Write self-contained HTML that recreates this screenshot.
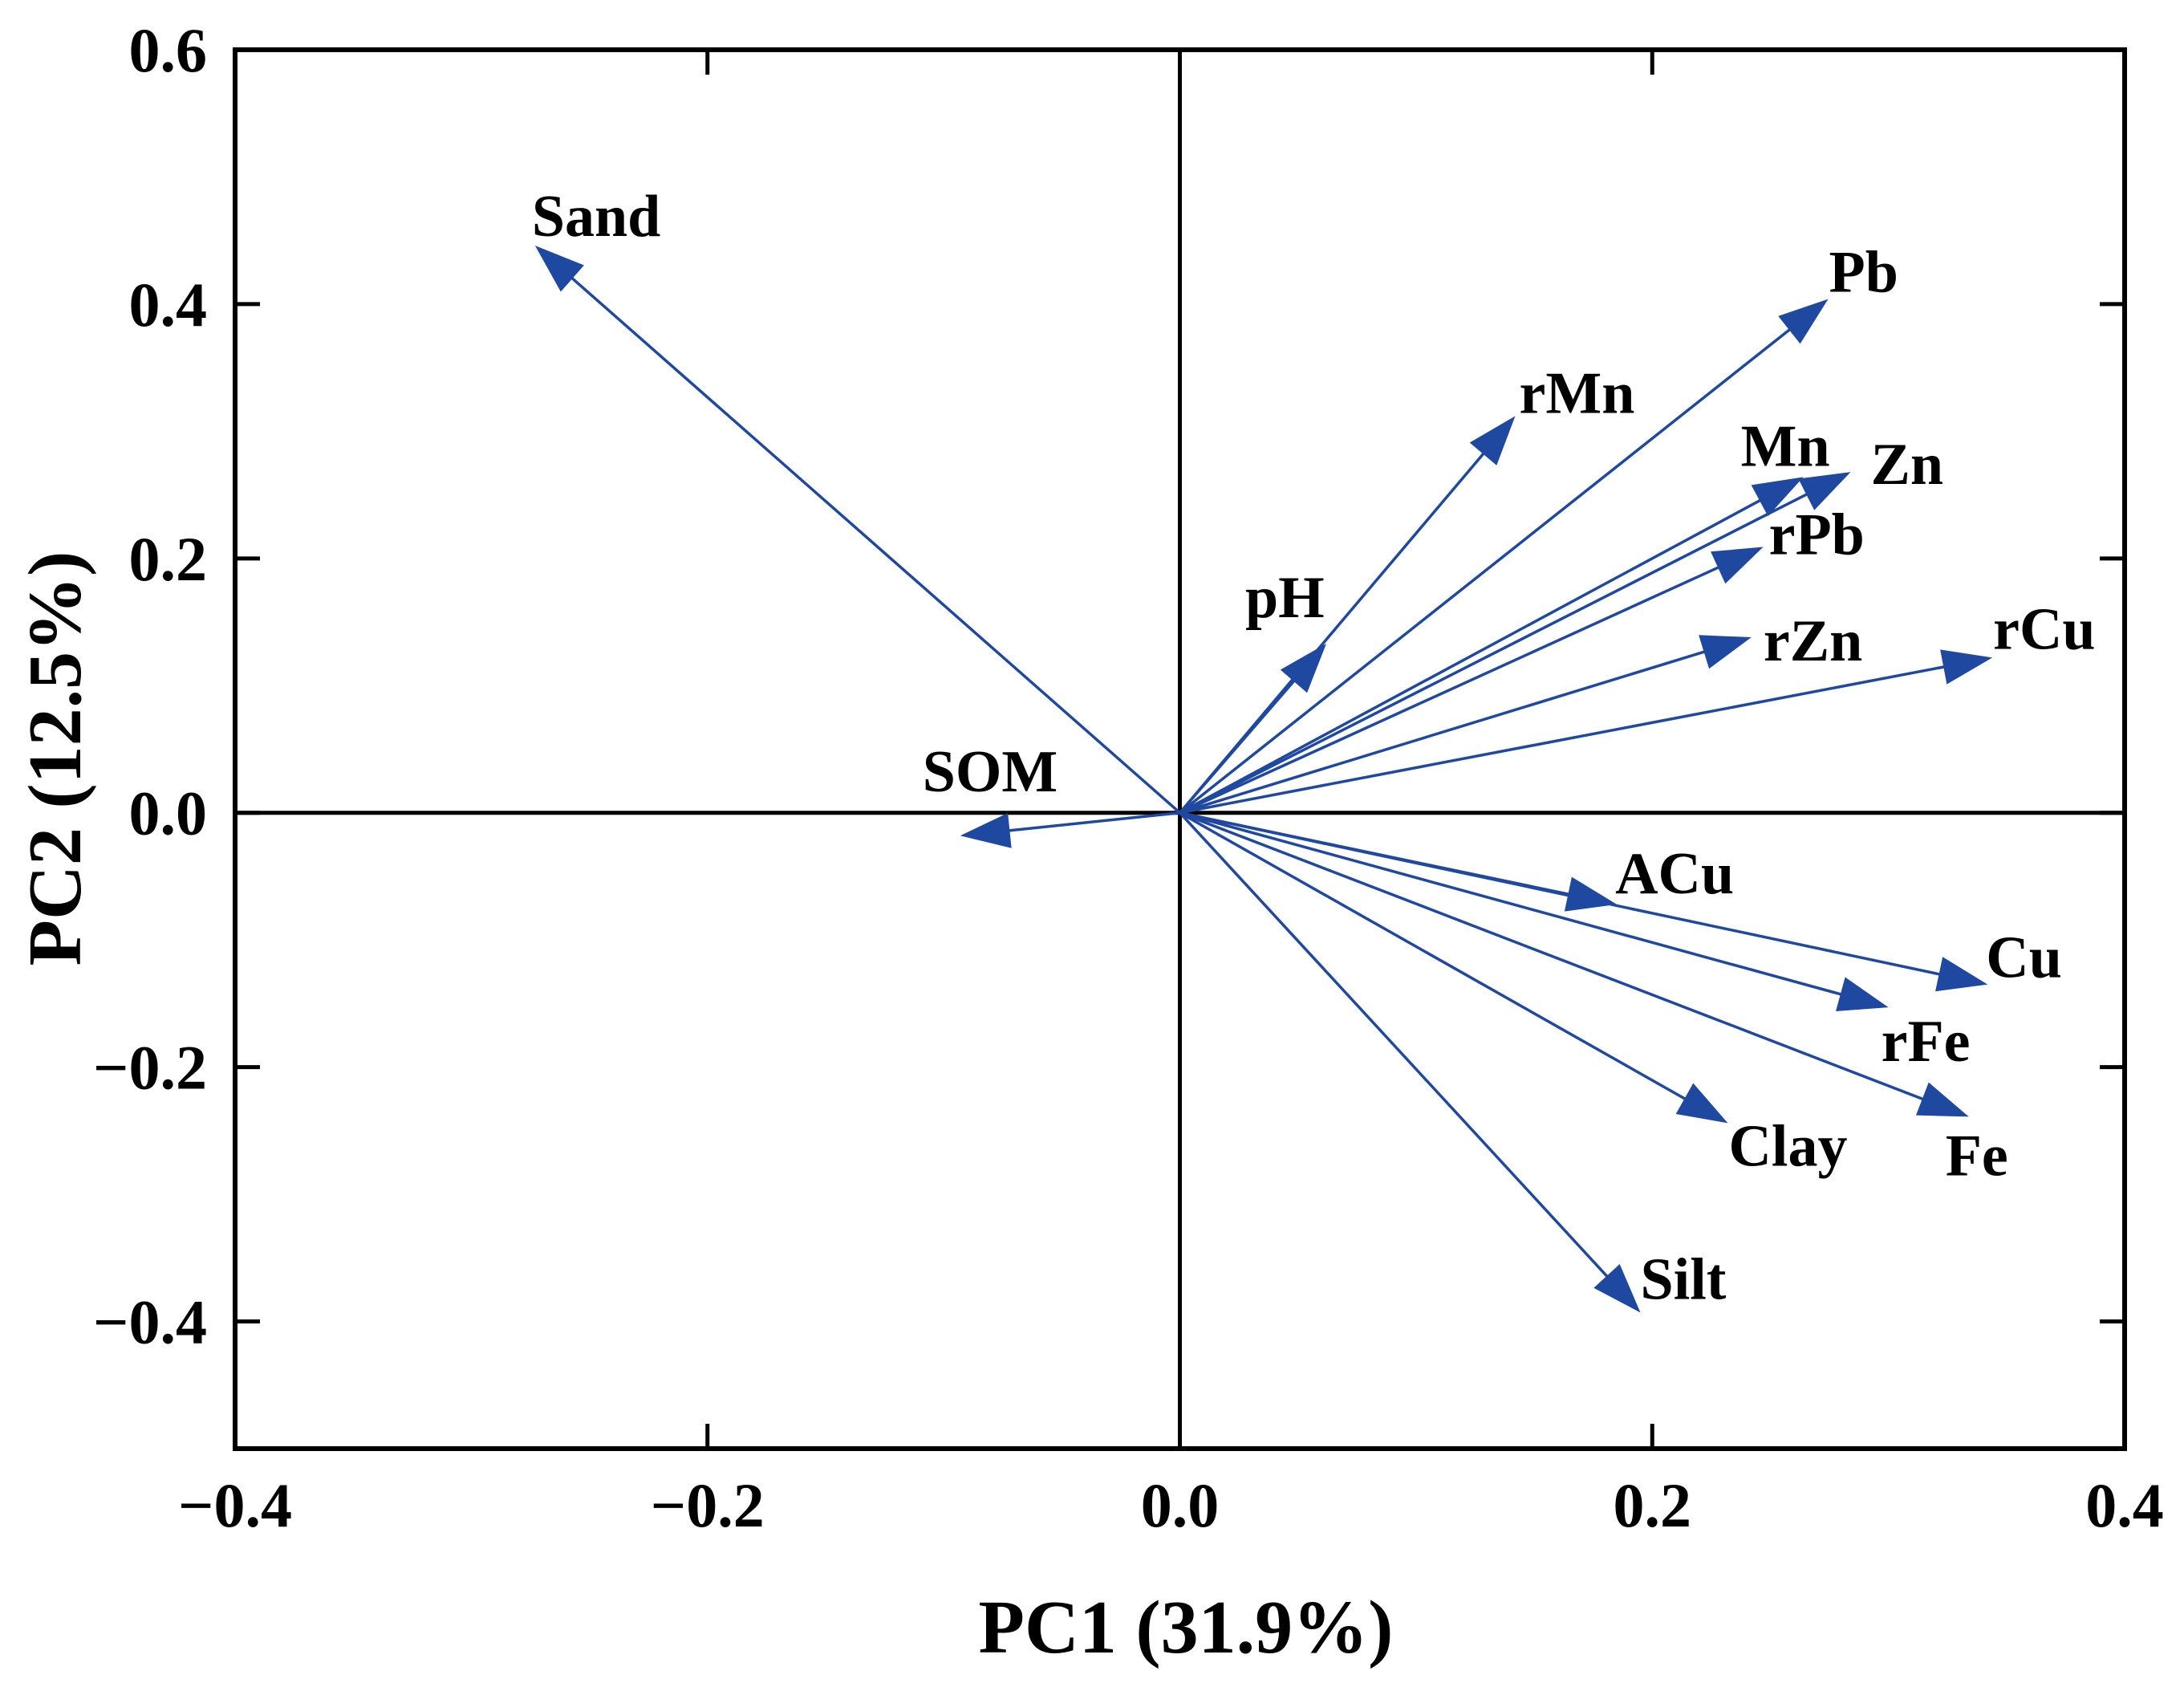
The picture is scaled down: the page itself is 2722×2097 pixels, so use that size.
<!DOCTYPE html>
<html><head><meta charset="utf-8"><style>
html,body{margin:0;padding:0;background:#fff;}
svg text{font-family:"Liberation Serif",serif;font-weight:bold;fill:#000;}
</style></head><body>
<svg id="chart" width="2722" height="2092" viewBox="0 0 2722 2092" xmlns="http://www.w3.org/2000/svg">
<g id="axes"></g>
<g id="arrows"></g>
<text x="1478" y="2059" text-anchor="middle" font-size="94">PC1 (31.9%)</text>
<text transform="translate(100,945) rotate(-90)" text-anchor="middle" font-size="94">PC2 (12.5%)</text>
</svg>
<script>
const variables = ["Sand","Pb","rMn","Mn","Zn","rPb","rZn","rCu","pH","SOM","ACu","Cu","rFe","Fe","Clay","Silt"];
const pc1 = [-0.273,0.2745,0.142,0.264,0.284,0.247,0.242,0.344,0.062,-0.093,0.185,0.342,0.300,0.334,0.232,0.195];
const pc2 = [0.446,0.404,0.312,0.264,0.268,0.209,0.138,0.122,0.133,-0.018,-0.072,-0.135,-0.153,-0.239,-0.244,-0.393];
const xTicks = [-0.4,-0.2,0.0,0.2,0.4];
const yTicks = [-0.4,-0.2,0.0,0.2,0.4,0.6];
const xTickLabels = ["\u22120.4","\u22120.2","0.0","0.2","0.4"];
const yTickLabels = ["\u22120.4","\u22120.2","0.0","0.2","0.4","0.6"];
const labelDx = [-4,1,5,-78,25,7,15,1,-101,-47,-2,-2,-9,-29,1,0];
const labelDy = [-12,-9,-4,-14,15,9,29,-11,-33,-55,-14,-9,67,73,53,-17];

const NS="http://www.w3.org/2000/svg";
const L=293,R=2648,T=62,B=1805;
const xMin=-0.4,xMax=0.4,yMin=-0.5,yMax=0.6;
const X=v=>L+(v-xMin)/(xMax-xMin)*(R-L);
const Y=v=>B-(v-yMin)/(yMax-yMin)*(B-T);
function mk(tag,attrs,parent){const e=document.createElementNS(NS,tag);for(const k in attrs)e.setAttribute(k,attrs[k]);parent.appendChild(e);return e;}
const ax=document.getElementById('axes');
let e;
e=mk('rect',{x:L,y:T,width:R-L,height:B-T,fill:'none',stroke:'#000','stroke-width':6},ax);


e=mk('line',{x1:X(0),x2:X(0),y1:T,y2:B,stroke:'#000','stroke-width':5},ax);


e=mk('line',{x1:L,x2:R,y1:Y(0),y2:Y(0),stroke:'#000','stroke-width':5},ax);


const tl=31;
xTicks.forEach((v,i)=>{
  const x=X(v);
  e=mk('line',{x1:x,x2:x,y1:B,y2:B-tl,stroke:'#000','stroke-width':5},ax);
  
  
  e=mk('line',{x1:x,x2:x,y1:T,y2:T+tl,stroke:'#000','stroke-width':5},ax);
  
  
  e=mk('text',{x:x,y:1902,'text-anchor':'middle','font-size':78},ax);
  e.textContent=xTickLabels[i];
  
  
});
yTicks.forEach((v,i)=>{
  const y=Y(v);
  e=mk('line',{x1:L,x2:L+tl,y1:y,y2:y,stroke:'#000','stroke-width':5},ax);
  
  
  e=mk('line',{x1:R,x2:R-tl,y1:y,y2:y,stroke:'#000','stroke-width':5},ax);
  
  
  e=mk('text',{x:258,y:y+27,'text-anchor':'end','font-size':78},ax);
  e.textContent=yTickLabels[i];
  
  
});
const ar=document.getElementById('arrows');
const col='#1f48a0',hl=62,hw=22;
variables.forEach((name,i)=>{
  const x0=X(0),y0=Y(0),x1=X(pc1[i]),y1=Y(pc2[i]);
  const dx=x1-x0,dy=y1-y0,len=Math.hypot(dx,dy),ux=dx/len,uy=dy/len;
  const bx=x1-ux*hl,by=y1-uy*hl;
  const g=mk('g',{},ar);
  
  
  mk('line',{x1:x0,y1:y0,x2:bx+ux*5,y2:by+uy*5,stroke:col,'stroke-width':3.5},g);
  mk('polygon',{points:`${x1},${y1} ${bx-uy*hw},${by+ux*hw} ${bx+uy*hw},${by-ux*hw}`,fill:col},g);
  const t=mk('text',{x:x1+labelDx[i],y:y1+labelDy[i],'font-size':74},g);
  t.textContent=name;
  
  
});
</script>
</body></html>
